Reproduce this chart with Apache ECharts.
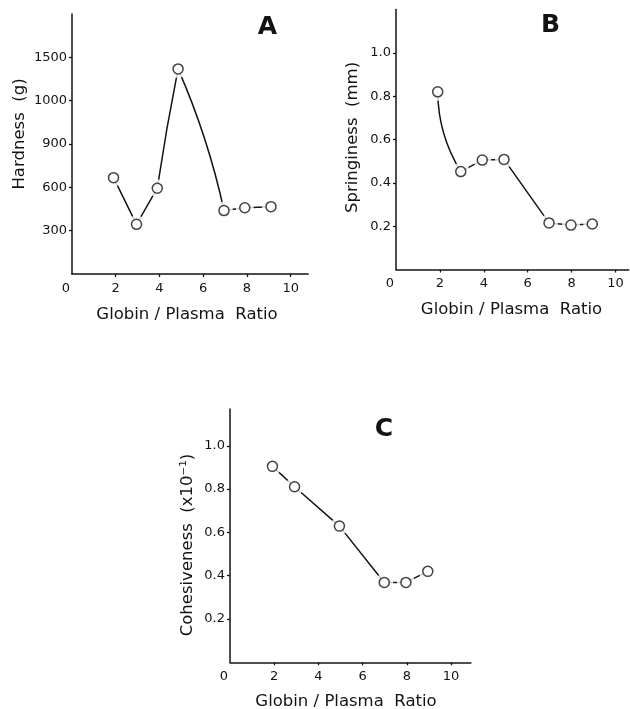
<!DOCTYPE html>
<html>
<head>
<meta charset="utf-8">
<script src="https://cdn.jsdelivr.net/npm/echarts@6/dist/echarts.min.js"></script>
<style>
html,body{margin:0;padding:0;background:#fff;}
#chart{width:630px;height:709px;}
</style>
</head>
<body>
<div id="chart"></div>
<script>
// ---- data ----
const xA = [1.9, 2.95, 3.9, 4.85, 6.95, 7.9, 9.1];
const yA = [667, 344, 594, 1420, 439, 459, 466];
const xB = [1.9, 2.95, 3.93, 4.92, 6.97, 7.97, 8.94];
const yB = [0.82, 0.452, 0.505, 0.508, 0.215, 0.205, 0.21];
const xC = [1.92, 2.92, 4.95, 6.98, 7.96, 8.95];
const yC = [0.905, 0.811, 0.629, 0.369, 0.369, 0.42];

const xTickVals = [0, 2, 4, 6, 8, 10];
const xTickLabels = ['0', '2', '4', '6', '8', '10'];
const yTickValsA = [300, 600, 900, 1200, 1500];
const yTickLabelsA = ['300', '600', '900', '1000', '1500'];
const yTickValsBC = [0.2, 0.4, 0.6, 0.8, 1.0];
const yTickLabelsBC = ['0.2', '0.4', '0.6', '0.8', '1.0'];

const xTitle = 'Globin / Plasma  Ratio';
const yTitleA = 'Hardness  (g)';
const yTitleB = 'Springiness  (mm)';
const yTitleC = 'Cohesiveness  (x10\u207B\u00B9)';
const panelLetters = ['A', 'B', 'C'];

// which point-to-point segments are drawn straight, and which as curves
const straightRunsA = [[0, 2], [4, 6]];
const curvedSegsA = [2, 3];          // segment starting at point index
const straightRunsB = [[1, 6]];
const curvedSegsB = [0];
const straightRunsC = [[0, 5]];
const curvedSegsC = [];

// ---- styling ----
const INK = '#131313';
const FONT = 'DejaVu Sans';
const curveBow = {A: [0.012, 0.05], B: [-0.14], C: []};

const pairs = (xs, ys) => xs.map((x, i) => [x, ys[i]]);

function xAxis(gi, max) {
  return {
    type: 'value', gridIndex: gi, min: 0, max: max,
    axisLine: {show: true, lineStyle: {color: INK, width: 1.5}},
    axisTick: {show: true, length: 3, inside: false, customValues: xTickVals.slice(1), lineStyle: {color: INK, width: 1.3}},
    axisLabel: {
      show: true, customValues: xTickVals, margin: 8,
      color: INK, fontFamily: FONT, fontSize: 13,
      formatter: v => {
        const i = xTickVals.indexOf(v);
        if (i < 0) return '';
        return v === 0 ? '{o|' + xTickLabels[i] + '}' : xTickLabels[i];
      },
      rich: {o: {padding: [0, 12, 0, 0], color: INK, fontFamily: FONT, fontSize: 13}}
    },
    splitLine: {show: false}
  };
}
function yAxis(gi, max, vals, labels) {
  return {
    type: 'value', gridIndex: gi, min: 0, max: max,
    axisLine: {show: true, lineStyle: {color: INK, width: 1.5}},
    axisTick: {show: true, length: 3, customValues: vals, lineStyle: {color: INK, width: 1.3}},
    axisLabel: {
      show: true, customValues: vals, margin: 5,
      color: INK, fontFamily: FONT, fontSize: 13,
      formatter: v => {
        let i = vals.findIndex(t => Math.abs(t - v) < 1e-9);
        return i < 0 ? '' : labels[i];
      }
    },
    splitLine: {show: false}
  };
}
function seriesFor(gi, xs, ys, runs, curved, bows) {
  const data = pairs(xs, ys);
  const out = [];
  runs.forEach(r => {
    out.push({type: 'line', xAxisIndex: gi, yAxisIndex: gi, data: data.slice(r[0], r[1] + 1),
      showSymbol: false, silent: true, z: 2, lineStyle: {color: INK, width: 1.5}});
  });
  if (curved.length) {
    const segData = curved.map((s, k) => [xs[s], ys[s], xs[s + 1], ys[s + 1], k]);
    out.push({
      type: 'custom', xAxisIndex: gi, yAxisIndex: gi, silent: true, z: 2,
      encode: {x: [0, 2], y: [1, 3]},
      data: segData,
      renderItem: (params, api) => {
        const a = api.coord([api.value(0), api.value(1)]);
        const b = api.coord([api.value(2), api.value(3)]);
        const bow = bows[api.value(4)];
        const dx = b[0] - a[0], dy = b[1] - a[1];
        const mx = (a[0] + b[0]) / 2, my = (a[1] + b[1]) / 2;
        return {
          type: 'bezierCurve',
          shape: {x1: a[0], y1: a[1], x2: b[0], y2: b[1], cpx1: mx + dy * bow, cpy1: my - dx * bow},
          style: {stroke: INK, lineWidth: 1.5, fill: 'none'}
        };
      }
    });
  }
  out.push({type: 'scatter', xAxisIndex: gi, yAxisIndex: gi, data: data, symbol: 'circle', symbolSize: 18,
     silent: true, z: 3, itemStyle: {color: '#fff', borderWidth: 0}});
  out.push({type: 'scatter', xAxisIndex: gi, yAxisIndex: gi, data: data, symbol: 'circle', symbolSize: 10,
     silent: true, z: 4, itemStyle: {color: '#fff', borderColor: INK, borderWidth: 1.5}});
  return out;
}
function txt(text, x, y, size, rot, bold) {
  return {type: 'text', x: x, y: y, rotation: rot || 0, z: 10,
    style: {text: text, fill: INK, font: (bold ? 'bold ' : '') + size + 'px "' + FONT + '"',
      align: 'center', verticalAlign: 'middle'}};
}

const option = {
  backgroundColor: '#fff',
  animation: false,
  grid: [
    {left: 72, top: 14, width: 236.2, height: 260, outerBoundsMode: 'none'},
    {left: 396, top: 9.5, width: 232.7, height: 260, outerBoundsMode: 'none'},
    {left: 230, top: 409, width: 240.9, height: 253.3, outerBoundsMode: 'none'}
  ],
  xAxis: [xAxis(0, 10.8), xAxis(1, 10.6), xAxis(2, 10.9)],
  yAxis: [yAxis(0, 1800, yTickValsA, yTickLabelsA), yAxis(1, 1.2, yTickValsBC, yTickLabelsBC), yAxis(2, 1.17, yTickValsBC, yTickLabelsBC)],
  series: [].concat(
    seriesFor(0, xA, yA, straightRunsA, curvedSegsA, curveBow.A),
    seriesFor(1, xB, yB, straightRunsB, curvedSegsB, curveBow.B),
    seriesFor(2, xC, yC, straightRunsC, curvedSegsC, curveBow.C)
  ),
  graphic: [
    txt(panelLetters[0], 267.5, 27.5, 25, 0, true),
    txt(panelLetters[1], 550.5, 25, 25, 0, true),
    txt(panelLetters[2], 384, 429.5, 25, 0, true),
    txt(xTitle, 187, 315, 16.5),
    txt(xTitle, 511.5, 310, 16.5),
    txt(xTitle, 346, 702, 16.5),
    txt(yTitleA, 20, 134, 16.5, Math.PI / 2),
    txt(yTitleB, 353, 137.5, 16.5, Math.PI / 2),
    txt(yTitleC, 187.5, 545, 16.5, Math.PI / 2)
  ]
};

const chart = echarts.init(document.getElementById('chart'), null, {renderer: 'canvas'});
chart.setOption(option);
</script>
</body>
</html>
